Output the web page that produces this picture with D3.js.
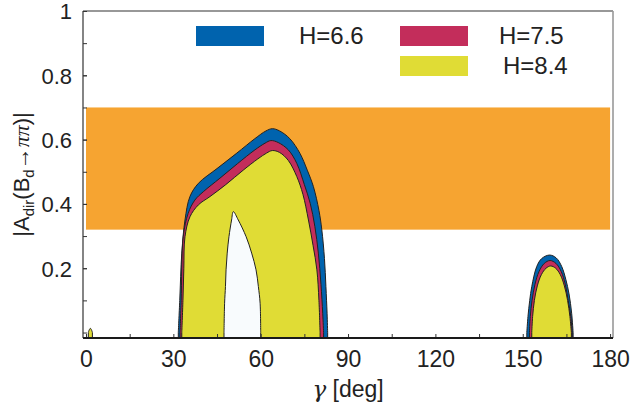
<!DOCTYPE html>
<html>
<head>
<meta charset="utf-8">
<script src="https://cdn.jsdelivr.net/npm/d3@7"></script>
<style>
  body { margin: 0; background: #fff; }
  svg { display: block; font-family: "Liberation Sans", Arial, Helvetica, sans-serif; }
</style>
</head>
<body>
<svg id="chart" width="631" height="408"></svg>
<script>

// tick values
var gammaTicks = [0, 30, 60, 90, 120, 150, 180];
var gammaMinor = [0, 15, 30, 45, 60, 75, 90, 105, 120, 135, 150, 165, 180];
var ampTicks = [0.2, 0.4, 0.6, 0.8, 1];
var ampMinor = [0, 0.1, 0.2, 0.3, 0.4, 0.5, 0.6, 0.7, 0.8, 0.9];

// experimental band |A_dir|, over the whole gamma range
var expBand = [0.32, 0.70];
var expGamma = [0, 180];

// legend
var hNames = ["H=6.6", "H=7.5", "H=8.4"];
var hColors = ["#0063ae", "#c32d5b", "#e0dc35"];

// allowed regions, upper edge [gamma, |A_dir|]
var blueMain = [[31.7,0],[32.2,0.10],[32.9,0.247],[34.0,0.35],[35.7,0.423],[38.6,0.464],[45,0.51],[51.8,0.558],
  [58,0.603],[61.8,0.627],[64,0.634],[66.5,0.627],[70,0.603],[73.5,0.557],[76,0.505],[78.1,0.454],[80,0.38],
  [81.0,0.319],[81.9,0.23],[82.4,0.143],[82.8,0.06],[83.0,0]];
var redMain = [[32.3,0],[32.7,0.10],[33.4,0.298],[35.1,0.371],[37.4,0.412],[40.3,0.438],[46,0.48],[52,0.525],
  [58,0.568],[61.5,0.589],[63.5,0.597],[66,0.591],[69.5,0.568],[72.4,0.526],[75,0.46],[77,0.402],[78.6,0.33],
  [79.8,0.247],[80.7,0.15],[81.3,0.06],[81.6,0]];
var yellowMain = [[32.9,0],[33.3,0.10],[33.6,0.20],[34.0,0.298],[35.7,0.36],[38.6,0.397],[42.6,0.423],[48,0.46],
  [54,0.505],[59,0.54],[62,0.558],[64,0.566],[66.5,0.56],[69.5,0.535],[72.4,0.485],[74.5,0.43],[76.4,0.35],
  [78,0.27],[79.3,0.195],[80.0,0.10],[80.4,0]];
var holeMain = [[47.4,0],[47.6,0.091],[47.9,0.143],[48.1,0.195],[48.5,0.247],[49.1,0.298],[50.0,0.35],[50.6,0.376],
  [52.3,0.35],[55.0,0.298],[56.9,0.247],[58.4,0.195],[59.2,0.143],[59.8,0.091],[60.0,0]];
var blueSide = [[151.4,0],[151.8,0.05],[152.4,0.10],[153.1,0.143],[154.8,0.205],[156.5,0.23],[159.2,0.241],
  [161.5,0.232],[163.4,0.205],[164.8,0.165],[165.9,0.12],[166.8,0.06],[167.3,0]];
var redSide = [[152.3,0],[152.6,0.05],[153.2,0.10],[154.2,0.15],[155.6,0.19],[157.4,0.215],[159.4,0.224],
  [161.4,0.215],[163.2,0.19],[164.6,0.15],[165.6,0.10],[166.5,0.05],[167.0,0]];
var yellowSide = [[153.1,0],[153.4,0.05],[154.0,0.10],[155.0,0.145],[156.4,0.18],[158,0.20],[159.6,0.207],
  [161.3,0.20],[162.9,0.18],[164.3,0.145],[165.4,0.10],[166.2,0.05],[166.7,0]];
var yellowSpike = [[0.8,0],[1.1,0.008],[1.5,0.013],[1.9,0.008],[2.2,0]];

var svg = d3.select("#chart");
var margin = {top: 11, right: 18, bottom: 70, left: 83};
var W = +svg.attr("width"), H = +svg.attr("height");

var x = d3.scaleLinear().domain([-1.03, 181]).range([margin.left, W - margin.right]);
var y = d3.scaleLinear().domain([-0.017, 1]).range([H - margin.bottom, margin.top]);

svg.append("clipPath").attr("id", "plotclip")
  .append("rect")
  .attr("x", x.range()[0]).attr("y", y.range()[1])
  .attr("width", x.range()[1] - x.range()[0])
  .attr("height", y.range()[0] - y.range()[1]);

var plot = svg.append("g").attr("clip-path", "url(#plotclip)");

// orange band
plot.append("rect")
  .attr("x", x(expGamma[0])).attr("y", y(expBand[1]))
  .attr("width", x(expGamma[1]) - x(expGamma[0]))
  .attr("height", y(expBand[0]) - y(expBand[1]))
  .attr("fill", "#f6a431");

var area = d3.area()
  .x(function(d){ return x(d[0]); })
  .y0(y.range()[0] + 2)
  .y1(function(d){ return y(d[1]); })
  .curve(d3.curveCatmullRom.alpha(0.5));

var regions = [
  {pts: blueMain, fill: hColors[0]}, {pts: redMain, fill: hColors[1]}, {pts: yellowMain, fill: hColors[2]},
  {pts: holeMain, fill: "#f8fbfd"},
  {pts: blueSide, fill: hColors[0]}, {pts: redSide, fill: hColors[1]}, {pts: yellowSide, fill: hColors[2]},
  {pts: yellowSpike, fill: hColors[2]}
];

plot.selectAll("path.region")
  .data(regions)
  .enter().append("path")
  .attr("class", "region")
  .attr("d", function(d){ return area(d.pts); })
  .attr("fill", function(d){ return d.fill; })
  .attr("stroke", "#222")
  .attr("stroke-width", 1);

// frame
var fr = svg.append("g");
fr.append("line").attr("x1", x.range()[0]).attr("x2", x.range()[1]).attr("y1", y.range()[1]).attr("y2", y.range()[1])
  .attr("stroke", "#333").attr("stroke-width", 1.2);
fr.append("line").attr("x1", x.range()[1]).attr("x2", x.range()[1]).attr("y1", y.range()[1]).attr("y2", y.range()[0])
  .attr("stroke", "#999").attr("stroke-width", 1.6);

// y axis
var yAxisMinor = d3.axisLeft(y).tickValues(ampMinor).tickSize(-4).tickFormat("");
var gy0 = svg.append("g").attr("transform", "translate(" + x.range()[0] + ",0)").call(yAxisMinor);
gy0.select(".domain").remove();
var yAxis = d3.axisLeft(y).tickValues(ampTicks).tickSize(-4).tickPadding(11)
  .tickFormat(function(d){ return d === 1 ? "1" : d3.format(".1f")(d); });
var gy = svg.append("g").attr("transform", "translate(" + x.range()[0] + ",0)").call(yAxis);
gy.select(".domain").remove();
gy.selectAll("text").attr("font-size", 22).attr("fill", "#222").attr("font-family", null).attr("dy", "0.36em");
svg.selectAll("g.tick line").attr("stroke", "#333");
svg.append("line").attr("x1", x.range()[0]).attr("x2", x.range()[0]).attr("y1", y.range()[1]).attr("y2", y.range()[0])
  .attr("stroke", "#333").attr("stroke-width", 1.2);

// x axis
var xAxisMinor = d3.axisBottom(x).tickValues(gammaMinor).tickSize(-4).tickFormat("");
var gx0 = svg.append("g").attr("transform", "translate(0," + y.range()[0] + ")").call(xAxisMinor);
gx0.select(".domain").remove();
gx0.selectAll("line").attr("stroke", "#333");
var xAxis = d3.axisBottom(x).tickValues(gammaTicks).tickSize(0).tickPadding(13);
var gx = svg.append("g").attr("transform", "translate(0," + y.range()[0] + ")").call(xAxis);
gx.select(".domain").remove();
gx.selectAll("text").attr("font-size", 23).attr("fill", "#222").attr("font-family", null);
svg.append("line").attr("x1", x.range()[0]).attr("x2", x.range()[1]).attr("y1", y.range()[0]).attr("y2", y.range()[0])
  .attr("stroke", "#1a1a1a").attr("stroke-width", 2);

// axis titles
var xt = svg.append("text").attr("x", x(90)).attr("y", 397).attr("text-anchor", "middle")
  .attr("font-size", 23).attr("fill", "#222");
xt.append("tspan").attr("font-family", "'DejaVu Serif', 'Liberation Serif', serif").attr("font-style", "italic").text("γ");
xt.append("tspan").text(" [deg]");

var yt = svg.append("text")
  .attr("transform", "translate(29," + ((y.range()[0] + y.range()[1]) / 2) + ") rotate(-90)")
  .attr("text-anchor", "middle").attr("font-size", 22).attr("fill", "#222");
yt.append("tspan").text("|A");
yt.append("tspan").attr("font-size", 15).attr("dy", 5).text("dir");
yt.append("tspan").attr("dy", -5).text("(B");
yt.append("tspan").attr("font-size", 15).attr("dy", 5).text("d");
yt.append("tspan").attr("dy", -5).text("→");
yt.append("tspan").attr("font-family", "'Liberation Serif', serif").attr("font-style", "italic").text("ππ");
yt.append("tspan").text(")|");

// legend
var legendPos = [[196, 26], [400, 26], [400, 56]];
var textX = [299, 499, 503];
var lg = svg.selectAll("g.leg").data(hNames).enter().append("g").attr("class", "leg");
lg.append("rect")
  .attr("x", function(d, i){ return legendPos[i][0]; })
  .attr("y", function(d, i){ return legendPos[i][1]; })
  .attr("width", 68).attr("height", 20)
  .attr("fill", function(d, i){ return hColors[i]; });
lg.append("text")
  .attr("x", function(d, i){ return textX[i]; })
  .attr("y", function(d, i){ return legendPos[i][1] + 18; })
  .attr("font-size", 24).attr("fill", "#222")
  .text(function(d){ return d; });
</script>
</body>
</html>
